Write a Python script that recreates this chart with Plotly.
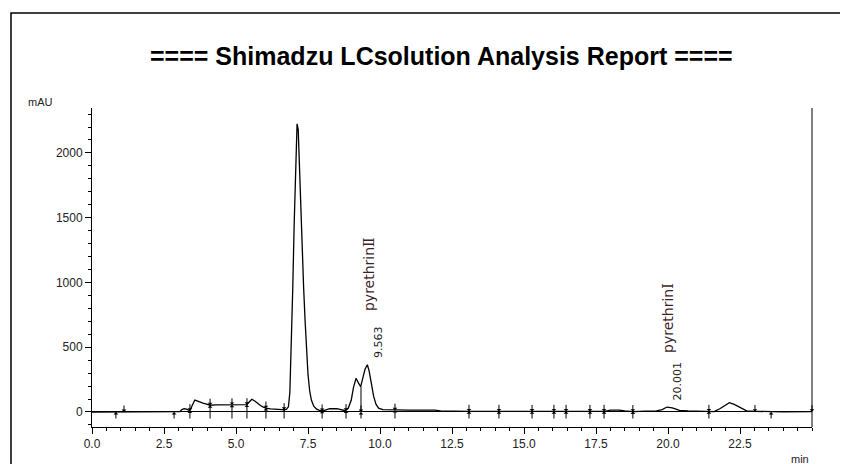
import plotly.graph_objects as go

# ---------------- data ----------------
time_min = [0.0, 0.8, 1.5, 2.5, 3.05, 3.12, 3.2, 3.28, 3.35, 3.40, 3.48, 3.57, 3.65, 3.75,
            3.85, 3.95, 4.05, 4.10, 4.3, 4.6, 4.86, 5.1, 5.38, 5.45, 5.55, 5.65, 5.75, 5.85,
            5.95, 6.04, 6.2, 6.4, 6.6, 6.75, 6.82, 6.87, 6.92, 6.97, 7.02, 7.07, 7.12, 7.16,
            7.20, 7.25, 7.30, 7.35, 7.40, 7.45, 7.50, 7.56, 7.62, 7.70, 7.80, 7.90, 8.0, 8.1,
            8.25, 8.5, 8.65, 8.8, 8.9, 9.0, 9.08, 9.17, 9.25, 9.33, 9.40, 9.48, 9.56, 9.62,
            9.70, 9.78, 9.86, 9.95, 10.1, 10.5, 11.0, 11.5, 11.9, 12.1, 12.5, 13.1, 14.0, 15.0,
            16.0, 17.0, 17.8, 18.0, 18.3, 18.5, 18.8, 19.2, 19.6, 19.8, 19.96, 20.15, 20.4,
            20.7, 21.0, 21.42, 21.6, 21.8, 22.0, 22.13, 22.3, 22.5, 22.73, 23.0, 23.5, 24.0,
            25.0]
signal_mau = [0, 1, 1, 1, 2, 18, 25, 22, 12, 10, 50, 92, 85, 75,
              68, 62, 55, 52, 55, 55, 55, 55, 56, 75, 98, 85, 65, 50,
              38, 30, 24, 20, 18, 20, 40, 150, 500, 950, 1450, 1950, 2225, 2180,
              1900, 1550, 1200, 950, 700, 450, 290, 160, 90, 45, 22, 12, 8, 15,
              25, 26, 18, 10, 30, 90, 190, 260, 225, 195, 260, 330, 365, 320,
              220, 120, 60, 30, 18, 14, 14, 14, 14, 8, 6, 5, 5, 4,
              5, 4, 5, 15, 15, 8, 3, 6, 8, 18, 38, 32, 12,
              8, 8, 5, 3, 25, 55, 72, 58, 35, 8, 5, 2, 1,
              2]

# labelled peaks
peak_rt = [9.56, 19.96]
peak_apex = [365, 38]
peak_rt_text = ["9.563", "20.001"]
peak_name_base = ["pyrethrin", "pyrethrin"]
peak_name_numeral = ["Ⅱ", "Ⅰ"]

# integration event marks (time, kind, signal level at the mark)
marker_t = [0.83, 1.11, 2.85, 3.40, 4.10, 4.86, 5.38, 6.04, 6.67, 7.99, 8.82, 9.34, 10.52,
            13.09, 14.13, 15.28, 16.04, 16.46, 17.29, 17.78, 18.78, 21.42, 23.02, 23.58, 25.0]
marker_kind = ["up", "down", "up", "both", "both", "both", "both", "both", "both", "both",
               "both", "both", "both", "both", "both", "both", "both", "both", "both", "both",
               "both", "both", "down", "up", "down"]
marker_level = [0, 0, 0, 10, 52, 55, 56, 30, 18, 8, 10, 0, 14,
                5, 5, 4, 5, 5, 4, 5, 3, 5, 3, 0, 2]

# drop line between the two overlapping peaks
drop_t = [9.34]
drop_top = [195]

x_tick_vals = [0, 2.5, 5, 7.5, 10, 12.5, 15, 17.5, 20, 22.5]
x_tick_text = ["0.0", "2.5", "5.0", "7.5", "10.0", "12.5", "15.0", "17.5", "20.0", "22.5"]
y_tick_vals = [0, 500, 1000, 1500, 2000]
y_tick_text = ["0", "500", "1000", "1500", "2000"]

title_text = "==== Shimadzu LCsolution Analysis Report ===="
y_unit = "mAU"
x_unit = "min"

# ---------------- figure ----------------
X_RANGE = [0, 25]
Y_RANGE = [-116, 2347]
ARROW_LEN = 62  # in mAU (about 8 px)
FONT = "Liberation Sans, Arial, sans-serif"
PW, PH = 720, 319  # plot area size in px

fig = go.Figure()

fig.add_trace(go.Scatter(x=time_min, y=signal_mau, mode="lines",
                         line=dict(color="black", width=1.3), hoverinfo="skip",
                         showlegend=False))

for t, top in zip(drop_t, drop_top):
    fig.add_trace(go.Scatter(x=[t, t], y=[0, top], mode="lines",
                             line=dict(color="black", width=1), showlegend=False,
                             hoverinfo="skip"))

annotations = []
for t, kind, lvl in zip(marker_t, marker_kind, marker_level):
    if kind in ("up", "both"):
        annotations.append(dict(x=t, y=lvl, xref="x", yref="y", axref="x", ayref="y",
                                ax=t, ay=-ARROW_LEN, text="", showarrow=True,
                                arrowhead=1, arrowsize=0.8, arrowwidth=1, arrowcolor="black",
                                standoff=0))
    if kind in ("down", "both"):
        annotations.append(dict(x=t, y=lvl, xref="x", yref="y", axref="x", ayref="y",
                                ax=t, ay=lvl + ARROW_LEN, text="", showarrow=True,
                                arrowhead=1, arrowsize=0.8, arrowwidth=1, arrowcolor="black",
                                standoff=0))

for t, a, rt, base, num in zip(peak_rt, peak_apex, peak_rt_text, peak_name_base,
                               peak_name_numeral):
    annotations.append(dict(x=t, y=a, xref="x", yref="y", text=rt, showarrow=False,
                            textangle=-90, xanchor="center", yanchor="bottom",
                            xshift=11, yshift=5,
                            font=dict(family="DejaVu Sans, sans-serif", size=11, color="#222")))
    name = base + "<span style='font-family:DejaVu Serif'>" + num + "</span>"
    annotations.append(dict(x=t, y=a, xref="x", yref="y", text=name, showarrow=False,
                            textangle=-90, xanchor="center", yanchor="bottom",
                            xshift=1, yshift=52,
                            font=dict(family="DejaVu Sans, sans-serif", size=14, color="#3b1f2b")))

# title and unit labels (paper coords relative to plot area at 92..812 x 108..427 px of page)
annotations.append(dict(x=(441 - 92) / PW, y=(427 - 56) / PH, xref="paper", yref="paper",
                        text="<b>" + title_text + "</b>", showarrow=False,
                        xanchor="center", yanchor="middle",
                        font=dict(family=FONT, size=25, color="black")))
annotations.append(dict(x=(40 - 92) / PW, y=(427 - 102) / PH, xref="paper", yref="paper",
                        text=y_unit, showarrow=False, xanchor="center", yanchor="middle",
                        font=dict(family=FONT, size=11, color="#222")))
annotations.append(dict(x=(800 - 92) / PW, y=(427 - 459) / PH, xref="paper", yref="paper",
                        text=x_unit, showarrow=False, xanchor="center", yanchor="middle",
                        font=dict(family=FONT, size=11, color="#222")))

shapes = [
    # outer report frame
    dict(type="rect", xref="paper", yref="paper", x0=(11 - 92) / PW, y0=-0.5,
         x1=1.3, y1=(427 - 13) / PH, line=dict(color="black", width=1.5)),
    # right border of plot
    dict(type="line", xref="paper", yref="paper", x0=1, x1=1, y0=0, y1=1,
         line=dict(color="black", width=1)),
]

# page body has an 8px margin, so the figure is 8px smaller and margins are reduced
fig.update_layout(
    width=840, height=456,
    margin=dict(l=84, r=36, t=100, b=37),
    paper_bgcolor="white", plot_bgcolor="white",
    showlegend=False,
    annotations=annotations,
    shapes=shapes,
    xaxis=dict(range=X_RANGE, showline=True, linecolor="black", linewidth=1,
               ticks="outside", ticklen=6, tickcolor="black", tickwidth=1,
               tickvals=x_tick_vals, ticktext=x_tick_text,
               minor=dict(ticks="outside", ticklen=3, dtick=0.5, tick0=0, tickcolor="black"),
               showgrid=False, zeroline=False,
               tickfont=dict(family=FONT, size=12, color="#222")),
    yaxis=dict(range=Y_RANGE, showline=True, linecolor="black", linewidth=1,
               ticks="outside", ticklen=6, tickcolor="black", tickwidth=1,
               tickvals=y_tick_vals, ticktext=y_tick_text,
               minor=dict(ticks="outside", ticklen=3, dtick=100, tick0=0, tickcolor="black"),
               showgrid=False, zeroline=True, zerolinecolor="black", zerolinewidth=1,
               tickfont=dict(family=FONT, size=12, color="#222")),
)

fig.write_html("out.html")
